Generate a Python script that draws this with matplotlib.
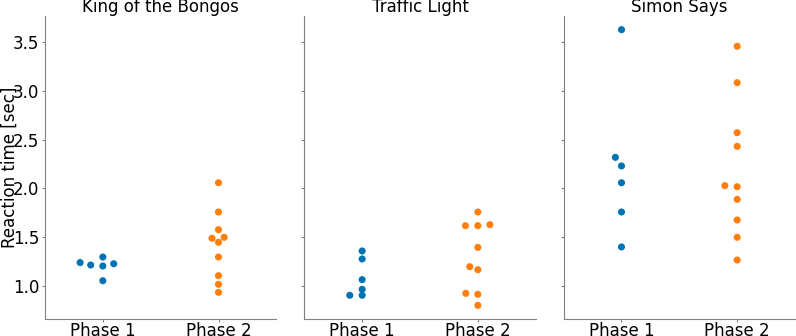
import matplotlib
matplotlib.use("Agg")
import matplotlib.pyplot as plt
import seaborn as sns
import pandas as pd

# reaction times per game and phase
games = ["King of the Bongos", "Traffic Light", "Simon Says"]
phases = ["Phase 1", "Phase 2"]

bongos_p1 = [1.24, 1.215, 1.297, 1.205, 1.228, 1.054]
bongos_p2 = [2.058, 1.758, 1.577, 1.489, 1.448, 1.499, 1.297, 1.106, 1.017, 0.935]
traffic_p1 = [1.359, 1.277, 1.065, 0.966, 0.905, 0.905]
traffic_p2 = [1.758, 1.618, 1.618, 1.628, 1.396, 1.198, 1.167, 0.925, 0.915, 0.802]
simon_p1 = [3.626, 2.318, 2.230, 2.058, 1.758, 1.40]
simon_p2 = [3.456, 3.083, 2.571, 2.431, 2.028, 2.017, 1.888, 1.676, 1.499, 1.266]

data = {
    "King of the Bongos": (bongos_p1, bongos_p2),
    "Traffic Light": (traffic_p1, traffic_p2),
    "Simon Says": (simon_p1, simon_p2),
}

colors = ["#0173b2", "#ff7f0e"]
spine_col = "#808080"
ylim = (0.662, 3.766)
yticks = [1.0, 1.5, 2.0, 2.5, 3.0, 3.5]

fig, axes = plt.subplots(1, 3, figsize=(7.96, 3.36), dpi=100)
fig.subplots_adjust(left=45 / 796, right=795 / 796, bottom=1 - 319 / 336,
                    top=1 - 16 / 336, wspace=0.121)

for ax, game in zip(axes, games):
    p1, p2 = data[game]
    df = pd.DataFrame({
        "phase": [phases[0]] * len(p1) + [phases[1]] * len(p2),
        "rt": p1 + p2,
    })
    sns.swarmplot(data=df, x="phase", y="rt", hue="phase", palette=colors,
                  order=phases, size=8.5, ax=ax, legend=False)
    ax.set_title(game, fontsize=12, pad=1.5)
    ax.set_xlabel("")
    ax.set_ylabel("")
    ax.set_xlim(-0.5, 1.5)
    for s in ["top", "right"]:
        ax.spines[s].set_visible(False)
    for s in ["left", "bottom"]:
        ax.spines[s].set_color(spine_col)
    ax.tick_params(colors=spine_col, labelcolor="black", labelsize=12)
    ax.tick_params(axis="x", length=2, pad=0)
    ax.tick_params(axis="y", length=2.5, pad=1.5)

# swarm is laid out while each panel still has its own y range,
# then frozen, dots shrunk, and the common y range applied
fig.canvas.draw()
for ax in axes:
    for coll in ax.collections:
        if "draw" in coll.__dict__:
            del coll.draw
        coll.set_sizes([26])
    ax.set_ylim(*ylim)
    ax.set_yticks(yticks)
for ax in axes[1:]:
    ax.tick_params(axis="y", labelleft=False)

axes[0].set_ylabel("Reaction time [sec]", fontsize=12)
axes[0].yaxis.set_label_coords(-0.115, 0.5)

fig.savefig("out.png", dpi=100)
